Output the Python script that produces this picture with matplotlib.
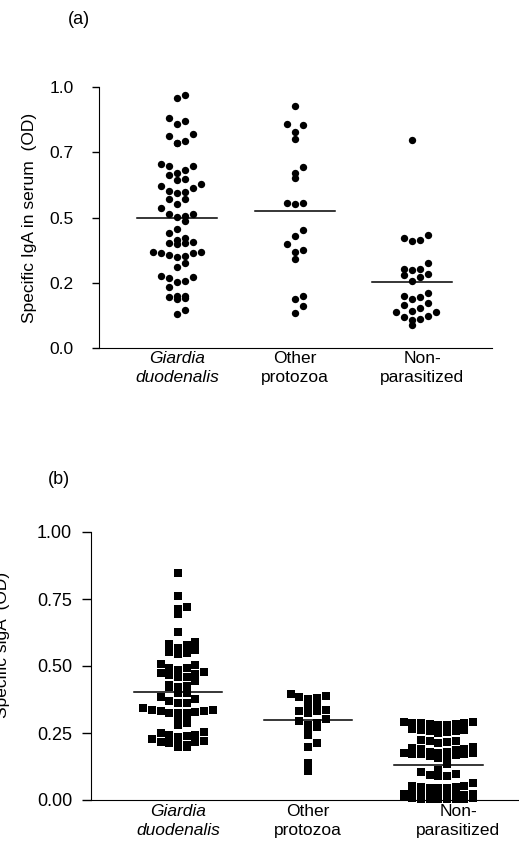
import numpy as np
import matplotlib
matplotlib.use("Agg")
import matplotlib.pyplot as plt
from matplotlib.transforms import ScaledTranslation

plt.rcParams['font.family'] = ['Liberation Sans', 'DejaVu Sans']

groups = ["Giardia\nduodenalis", "Other\nprotozoa", "Non-\nparasitized"]

# (a) specific IgA in serum (OD)
iga_giardia = [0.968, 0.958, 0.882, 0.857, 0.868, 0.820, 0.792, 0.785, 0.787, 0.812,
               0.705, 0.697, 0.682, 0.699, 0.672, 0.662, 0.644, 0.646, 0.627, 0.612,
               0.599, 0.602, 0.621, 0.595, 0.552, 0.570, 0.571, 0.536, 0.513, 0.506,
               0.503, 0.513, 0.485, 0.456, 0.441, 0.413, 0.404, 0.400, 0.402, 0.406,
               0.421, 0.368, 0.363, 0.351, 0.347, 0.355, 0.363, 0.368, 0.310, 0.326,
               0.273, 0.268, 0.276, 0.255, 0.233, 0.253, 0.199, 0.192, 0.187, 0.197,
               0.199, 0.132, 0.146]
iga_other = [0.928, 0.857, 0.856, 0.826, 0.800, 0.695, 0.653, 0.669, 0.554, 0.552,
             0.554, 0.451, 0.430, 0.397, 0.377, 0.369, 0.340, 0.199, 0.189, 0.161, 0.133]
iga_non = [0.797, 0.434, 0.421, 0.409, 0.414, 0.324, 0.304, 0.299, 0.304, 0.284,
           0.278, 0.273, 0.258, 0.212, 0.199, 0.197, 0.189, 0.174, 0.163, 0.155,
           0.143, 0.137, 0.137, 0.123, 0.120, 0.112, 0.108, 0.088]
iga_means = [0.50, 0.525, 0.252]

# (b) specific sIgA (OD)
siga_giardia = [0.846, 0.761, 0.721, 0.694, 0.712, 0.627, 0.590, 0.577, 0.582, 0.568,
                0.561, 0.547, 0.545, 0.552, 0.503, 0.493, 0.493, 0.507, 0.485, 0.476,
                0.470, 0.460, 0.460, 0.467, 0.475, 0.443, 0.425, 0.420, 0.423, 0.428,
                0.398, 0.383, 0.400, 0.363, 0.378, 0.361, 0.371, 0.336, 0.326, 0.323,
                0.333, 0.316, 0.343, 0.323, 0.328, 0.333, 0.336, 0.294, 0.279, 0.288,
                0.254, 0.244, 0.239, 0.236, 0.241, 0.251, 0.226, 0.216, 0.211, 0.206,
                0.199, 0.199, 0.206, 0.216, 0.221]
siga_other = [0.386, 0.376, 0.396, 0.381, 0.388, 0.353, 0.363, 0.333, 0.326, 0.333,
              0.336, 0.301, 0.286, 0.279, 0.294, 0.274, 0.266, 0.244, 0.211, 0.199,
              0.137, 0.107]
siga_non = [0.290, 0.286, 0.283, 0.281, 0.292, 0.279, 0.284, 0.287, 0.288,
            0.262, 0.258, 0.255, 0.250, 0.256, 0.260, 0.264,
            0.222, 0.218, 0.214, 0.220, 0.224,
            0.195, 0.190, 0.186, 0.192, 0.198,
            0.176, 0.172, 0.170, 0.174, 0.178, 0.180, 0.168, 0.175, 0.171,
            0.162, 0.158, 0.165,
            0.134,
            0.112, 0.098, 0.090, 0.088, 0.092, 0.105,
            0.052, 0.048, 0.045, 0.044, 0.046, 0.050, 0.054, 0.062,
            0.024, 0.020, 0.018, 0.017, 0.016, 0.017, 0.019, 0.020, 0.022, 0.024,
            0.006, 0.004, 0.003, 0.003, 0.002, 0.003, 0.004, 0.005, 0.006]
siga_means = [0.403, 0.297, 0.131]


def swarm_x(ax, center, vals, step_px, row_px, max_n):
    # Prism-like column scatter: group close values into rows, spread rows sideways
    vals = np.asarray(vals, dtype=float)
    pts = np.column_stack([np.full(len(vals), center), vals])
    ypix = ax.transData.transform(pts)[:, 1]
    x0 = ax.transData.transform([[center, 0]])[0, 0]
    px_per_unit = ax.transData.transform([[center + 1, 0]])[0, 0] - x0
    order = np.argsort(-vals)
    rows = []
    for i in order:
        if rows and ypix[rows[-1][0]] - ypix[i] < row_px and len(rows[-1]) < max_n:
            rows[-1].append(i)
        else:
            rows.append([i])
    cols = np.zeros(len(vals))
    for r in rows:
        r = sorted(r, key=lambda j: vals[j])  # lowest value sits in the middle
        slots = [0]
        k = 1
        while len(slots) < len(r):
            slots += [k, -k]
            k += 1
        for j, s in zip(r, slots):
            cols[j] = s
    return center + cols * step_px / px_per_unit


def group_labels(ax, pad_pt, last_shift_px):
    ax.set_xticks([1, 2, 3])
    ax.set_xticklabels([])
    ax.tick_params(axis='x', length=0)
    trans = ax.get_xaxis_transform()
    for i, g in enumerate(groups):
        dx = last_shift_px / 100 if i == 2 else 0
        t = trans + ScaledTranslation(dx, -pad_pt / 72, fig.dpi_scale_trans)
        ax.text(i + 1, 0, g, transform=t, ha='center', va='top', fontsize=12.5,
                style='italic' if i == 0 else 'normal', linespacing=1.35)


fig = plt.figure(figsize=(5.19, 8.48), dpi=100)

# ---- panel (a)
ax1 = fig.add_axes([99 / 519, 1 - 348 / 848, 393 / 519, 261 / 848])
ax1.set_xlim(0.336, 3.68)
ax1.set_ylim(0, 1.0)
for i, vals in enumerate([iga_giardia, iga_other, iga_non]):
    xs = swarm_x(ax1, i + 1, vals, 8.0, 9.0, 7)
    ax1.scatter(xs, vals, s=28, marker='o', color='black', linewidths=0, clip_on=False)
    ax1.plot([i + 1 - 0.34, i + 1 + 0.34], [iga_means[i]] * 2, color='black', lw=1.1)
ax1.set_yticks([0, 0.25, 0.5, 0.75, 1.0])
ax1.set_yticklabels(["0.0", "0.2", "0.5", "0.7", "1.0"])
ax1.tick_params(axis='y', length=5, width=1, pad=13, labelsize=12.5)
group_labels(ax1, 2, 10)
ax1.spines['top'].set_visible(False)
ax1.spines['right'].set_visible(False)
ax1.set_ylabel("Specific IgA in serum  (OD)", fontsize=12.5, labelpad=9)
fig.text(79 / 519, 1 - 20 / 848, "(a)", fontsize=13, ha='center', va='center')

# ---- panel (b)
ax2 = fig.add_axes([91 / 519, 1 - 800 / 848, 428 / 519, 268 / 848])
ax2.set_xlim(0.331, 3.62)
ax2.set_ylim(0, 1.0)
for i, vals in enumerate([siga_giardia, siga_other, siga_non]):
    xs = swarm_x(ax2, i + 1, vals, 8.7, 6.0, 9)
    ax2.scatter(xs, vals, s=30, marker='s', color='black', linewidths=0, clip_on=False)
    ax2.plot([i + 1 - 0.34, i + 1 + 0.34], [siga_means[i]] * 2, color='black', lw=1.1)
ax2.set_yticks([0, 0.25, 0.5, 0.75, 1.0])
ax2.set_yticklabels(["0.00", "0.25", "0.50", "0.75", "1.00"])
ax2.tick_params(axis='y', length=6.5, width=1, pad=7, labelsize=13)
group_labels(ax2, 3, 20)
ax2.spines['top'].set_visible(False)
ax2.spines['right'].set_visible(False)
fig.text(3 / 519, 1 - 645 / 848, "Specific sigA  (OD)", fontsize=12.5,
         rotation=90, ha='center', va='center')
fig.text(59 / 519, 1 - 479 / 848, "(b)", fontsize=13, ha='center', va='center')

fig.savefig("out.png", dpi=100)
